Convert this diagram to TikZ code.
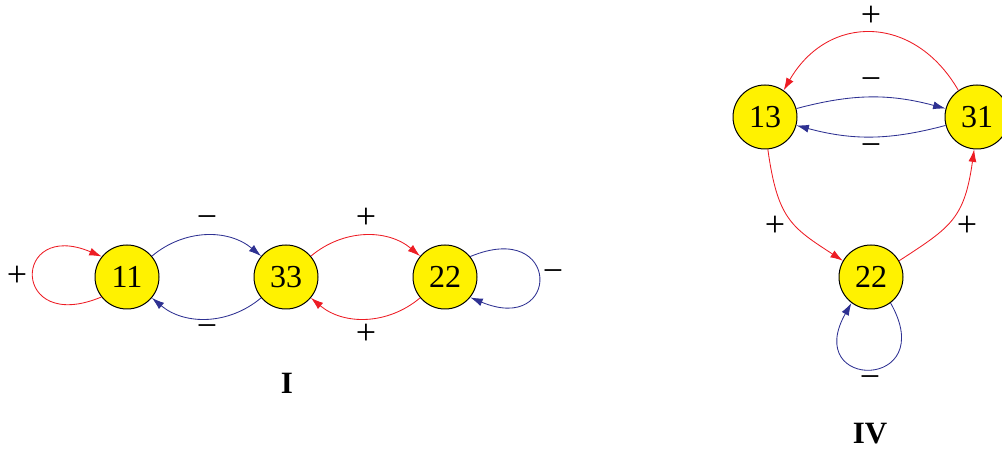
\documentclass[tikz,border=0pt]{standalone}
\usepackage{fontspec}
\setmainfont{Liberation Serif}
\usetikzlibrary{arrows.meta}
\definecolor{cred}{RGB}{237,28,36}
\definecolor{cblue}{RGB}{46,49,146}
\definecolor{cyell}{RGB}{255,242,0}
\begin{document}
\begin{tikzpicture}[x=1pt,y=1pt,
  state/.style={circle,draw=black,line width=1pt,fill=cyell,minimum size=64pt,inner sep=0pt,font=\fontsize{32}{36}\selectfont},
  sign/.style={font=\fontsize{36}{40}\selectfont,inner sep=0pt,text height=19.5pt,text depth=0pt},
  ttl/.style={font=\fontsize{31}{36}\selectfont\bfseries,inner sep=0pt},
  posedge/.style={color=cred,line width=0.85pt,-{Latex[length=12.5pt,width=8pt]}},
  negedge/.style={color=cblue,line width=0.85pt,-{Latex[length=12.5pt,width=8pt]}}]
\useasboundingbox (0,0) rectangle (1002,450);
% diagram I
\node[state] (n11) at (127,173) {11};
\node[state] (n33) at (286,173) {33};
\node[state] (n22a) at (445,173) {22};
\draw[posedge] (n11.218) .. controls +(-91,-38) and +(-90,38) .. (n11.141);
\draw[negedge] (n11) to[bend left=40] (n33);
\draw[negedge] (n33) to[bend left=40] (n11);
\draw[posedge] (n33) to[bend left=40] (n22a);
\draw[posedge] (n22a) to[bend left=40] (n33);
\draw[negedge] (n22a.39) .. controls +(91,38) and +(91,-38) .. (n22a.-39);
\node[sign] (l1) at (17,173) {+};
\node[sign] (l2) at (207,231) {−};
\node[sign] (l3) at (207,122) {−};
\node[sign] (l4) at (366,231) {+};
\node[sign] (l5) at (366,115) {+};
\node[sign] (l6) at (553,177) {−};
\node[ttl] (tI) at (287,67) {I};
% diagram IV
\node[state] (n13) at (765,333) {13};
\node[state] (n31) at (977,333) {31};
\node[state] (n22b) at (871,173) {22};
\draw[negedge] (n13) to[bend left=15] (n31);
\draw[negedge] (n31) to[bend left=15] (n13);
\draw[posedge] (n31.125) to[out=120,in=60,looseness=1.3] (n13.55);
\draw[posedge] (n13.-85) .. controls +(-82:70) and +(147:62) .. (n22b.150);
\draw[posedge] (n22b.30) .. controls +(33:62) and +(-98:70) .. (n31.-95);
\draw[negedge] (n22b.-53) .. controls +(50,-88) and +(-50,-88) .. (n22b.-127);
\node[sign] (m1) at (871,433) {+};
\node[sign] (m2) at (871,369) {−};
\node[sign] (m3) at (871,303) {−};
\node[sign] (m4) at (775,223) {+};
\node[sign] (m5) at (967,223) {+};
\node[sign] (m6) at (870,71) {−};
\node[ttl] (tIV) at (870,16) {IV};
\end{tikzpicture}
\end{document}
